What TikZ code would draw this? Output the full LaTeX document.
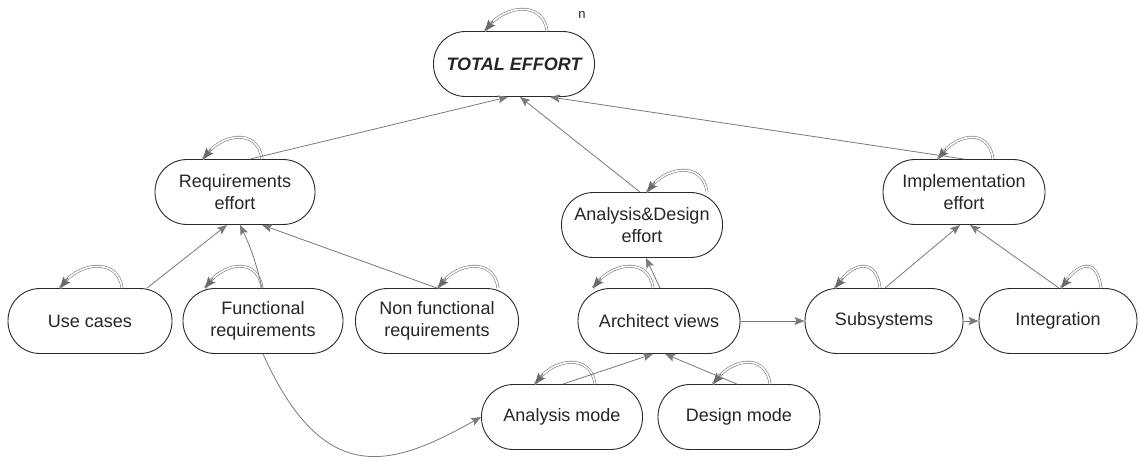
\documentclass[tikz,border=0pt]{standalone}
\usepackage{fontspec}
\setmainfont{Liberation Sans}
\usetikzlibrary{arrows.meta,calc}
\definecolor{edgegray}{HTML}{7A7A7A}
\definecolor{tipgray}{HTML}{6A6A6A}
\definecolor{boxline}{HTML}{2A2A2A}
\newcommand\selfloopat[3]{%
  \draw[loopd] ($(#1.north)+(#2,0)$) .. controls +(-4,-32) and +(16,-26) .. ($(#1.north)+(#3,0)$);
  \draw[looptip] ($(#1.north)+(#3,0)+(8,-10)$) -- ($(#1.north)+(#3,0)$);
}
\begin{document}
\begin{tikzpicture}[x=1pt,y=-1pt,
  box/.style={draw=boxline, line width=0.9pt, rounded corners=32pt, minimum width=161pt, minimum height=65pt, align=center, inner sep=0pt, font=\fontsize{18}{22}\selectfont, text=black!85},
  conn/.style={draw=edgegray, line width=0.8pt, -{Stealth[length=10pt,width=8pt,inset=2pt]}, edgegray},
  looptip/.style={draw=tipgray, line width=0.8pt, -{Stealth[length=11pt,width=9pt,inset=2pt]}, tipgray},
  loopd/.style={draw=edgegray, line width=0.6pt, double=white, double distance=1.6pt},
]
\useasboundingbox (0,0) rectangle (1139,461);
\fill[white] (0,0) rectangle (1139,461);

\node[box, font=\fontsize{18}{22}\selectfont\bfseries\itshape] (total) at (514,64) {TOTAL EFFORT};
\node[font=\fontsize{13}{15}\selectfont, text=black!85] (nlabel) at (582,15) {n};

\node[box, minimum width=160pt] (req) at (235,192) {Requirements\\effort};
\node[box] (ad) at (642,225) {Analysis\&Design\\effort};
\node[box, minimum width=162pt] (impl) at (964,192) {Implementation\\effort};

\node[box, minimum width=164pt] (use) at (90,321) {Use cases};
\node[box, minimum width=160pt] (func) at (263,321) {Functional\\requirements};
\node[box, minimum width=163pt] (nonf) at (437,321) {Non functional\\requirements};
\node[box, minimum width=162pt] (arch) at (659,321) {Architect views};
\node[box, minimum width=158pt] (sub) at (884,321) {Subsystems};
\node[box, minimum width=158pt] (int) at (1058,321) {Integration};

\node[box] (anm) at (562,417) {Analysis mode};
\node[box, minimum width=162pt] (dem) at (739,417) {Design mode};

% self loops
\selfloopat{total}{33}{-29}
\selfloopat{req}{27}{-32}
\selfloopat{ad}{65}{5}
\selfloopat{impl}{29}{-26}
\selfloopat{use}{32}{-30}
\selfloopat{func}{-1}{-58}
\selfloopat{nonf}{61}{1}
\selfloopat{arch}{-6}{-66}
\selfloopat{sub}{-4}{-49}
\selfloopat{int}{43}{3}
\selfloopat{anm}{33}{-27}
\selfloopat{dem}{31}{-26}

% connectors
\draw[conn] ($(req.north)+(15,0)$) -- ($(total.south)+(-6,0)$);
\draw[conn] ($(ad.north)+(-2,0)$) -- ($(total.south)+(6,0)$);
\draw[conn] (impl.north) -- ($(total.south)+(36,0)$);

\draw[conn] ($(use.north)+(57,0)$) -- ($(req.south)+(-8,0)$);
\draw[conn] ($(func.north)+(-1,0)$) to[bend right=6] ($(req.south)+(5,0)$);
\draw[conn] (nonf.north) -- ($(req.south)+(27,0)$);

\draw[conn] ($(arch.north)+(1,0)$) -- ($(ad.south)+(4,0)$);
\draw[conn] ($(anm.north)+(1,0)$) -- ($(arch.south)+(-6,0)$);
\draw[conn] ($(dem.north)+(-2,0)$) -- ($(arch.south)+(6,0)$);

\draw[conn] (arch.east) -- (sub.west);
\draw[conn] (sub.east) -- (int.west);
\draw[conn] ($(sub.north)+(1,0)$) -- ($(impl.south)+(-4,0)$);
\draw[conn] ($(int.north)+(1,0)$) -- ($(impl.south)+(6,0)$);

\draw[conn] (func.south) .. controls (325,492) and (395,465) .. (anm.west);
\end{tikzpicture}
\end{document}
